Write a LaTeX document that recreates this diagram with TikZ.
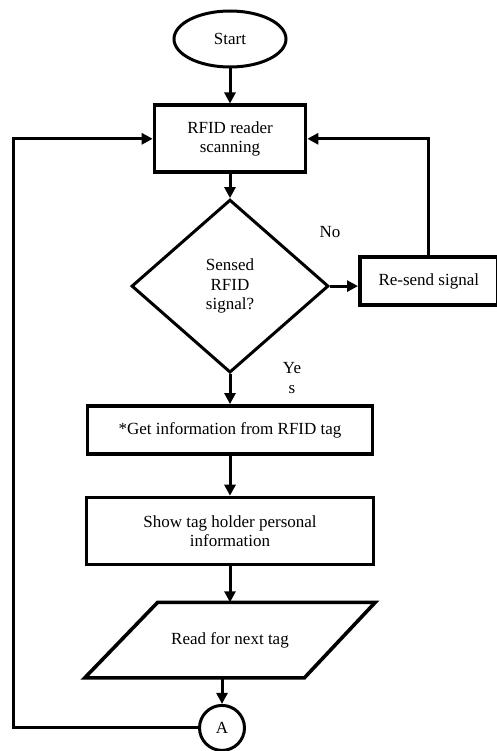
\documentclass[tikz,border=0pt]{standalone}
\usepackage{fontspec}
\setmainfont{Liberation Serif}
\usetikzlibrary{shapes.geometric, arrows.meta, positioning, calc}

\begin{document}
\begin{tikzpicture}[
    x=1pt, y=-1pt,
    node distance=30pt,
    >={Triangle[length=11pt,width=11pt]},
    every node/.style={align=center, font=\fontsize{17}{19.5}\selectfont}
]
    % Define styles
    \tikzstyle{startstop} = [ellipse, minimum width=112pt, minimum height=56pt, inner sep=0pt, draw=black, line width=3pt]
    \tikzstyle{process} = [rectangle, minimum height=48pt, inner sep=0pt, draw=black, line width=3.6pt]
    \tikzstyle{decision} = [diamond, minimum width=197pt, minimum height=173pt, inner sep=0pt, draw=black, line width=3pt]
    \tikzstyle{iobox} = [rectangle, minimum width=287pt, minimum height=72pt, inner sep=0pt, outer sep=1.8pt]
    \tikzstyle{ioline} = [draw=black, line width=3.6pt]
    \tikzstyle{connector} = [circle, minimum size=45pt, inner sep=0pt, draw=black, line width=3pt]
    \tikzstyle{arrow} = [line width=3pt, ->]

    \useasboundingbox (0,0) rectangle (497,751);
    \clip (0,0) rectangle (497,751);

    % Main column
    \node [startstop] (start) at (230,39) {Start};
    \node [process, minimum width=151pt, minimum height=67pt, below=35pt of start] (scan) {RFID reader\\scanning};
    \node [decision, below=24pt of scan] (sensed) {Sensed\\RFID\\signal?};
    \node [process, minimum width=138pt, right=28pt of sensed, yshift=5pt] (resend) {Re-send signal};
    \node [process, minimum width=285pt, below=30pt of sensed] (getinfo) {*Get information from RFID tag};
    \node [process, minimum width=287pt, minimum height=67pt, below=40pt of getinfo] (show) {Show tag holder personal\\information};
    \node [iobox, below=36pt of show] (read) {Read for next tag};
    \draw [ioline] ($(read.north west)+(73,0)$) -- (read.north east)
        -- ($(read.south east)+(-71,0)$) -- (read.south west) -- cycle;
    \node [connector, below=26pt of read, xshift=-8pt] (conA) {A};

    % Branch labels
    \node (nolbl) at (330,232) {No};
    \node (yeslbl) at (292,378) {Ye\\s};

    % Loop back corner
    \coordinate (loopcorner) at (13,0);

    % Arrows down the column
    \draw [arrow] (start) -- (scan);
    \draw [arrow] (scan) -- (sensed);
    \draw [arrow] (sensed) -- (getinfo);
    \draw [arrow] (getinfo) -- (show);
    \draw [arrow] (show) -- (read);
    \draw [arrow] (conA.north |- read.south) -- (conA);

    % No branch
    \draw [arrow] (sensed.east) -- (sensed.east -| resend.west);
    \draw [arrow] (resend.north) |- (scan.east);

    % Loop from A back to scanning
    \draw [arrow] (conA.west) -| (loopcorner |- scan.west) -- (scan.west);

\end{tikzpicture}
\end{document}
